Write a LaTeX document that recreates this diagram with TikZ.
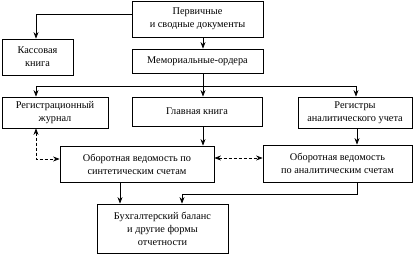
\documentclass[tikz,border=0pt]{standalone}
\usepackage{fontspec}
\setmainfont{Liberation Serif}
\usetikzlibrary{arrows.meta}
\begin{document}
\begin{tikzpicture}[x=1pt,y=-1pt,
  box/.style={draw,line width=0.8pt,align=center,inner sep=1pt,
    font=\fontsize{10.3}{13}\selectfont},
  arr/.style={line width=0.7pt,-{Stealth[length=6.5pt,width=5pt]}},
  darr/.style={line width=0.7pt,dashed,dash pattern=on 3pt off 2pt,
    {Stealth[length=6.5pt,width=5pt]}-{Stealth[length=6.5pt,width=5pt]}},
  ln/.style={line width=0.7pt}]
\useasboundingbox (0,0) rectangle (419,256);
\node[box,minimum width=131pt,minimum height=36pt] (top) at (197.5,19) {Первичные\\и сводные документы};
\node[box,minimum width=71pt,minimum height=36pt] (kass) at (37.5,57) {Кассовая\\книга};
\node[box,minimum width=131pt,minimum height=24pt] (mem) at (197.5,61) {Мемориальные-ордера};
\node[box,minimum width=106pt,minimum height=31pt] (reg) at (55,112.5) {Регистрационный\\журнал};
\node[box,minimum width=130pt,minimum height=29pt] (glav) at (197,111.5) {Главная книга};
\node[box,minimum width=114pt,minimum height=31pt] (regan) at (355,112.5) {Регистры\\аналитического учета};
\node[box,minimum width=154pt,minimum height=36pt] (syn) at (137,164) {Оборотная ведомость по\\синтетическим счетам};
\node[box,minimum width=149pt,minimum height=37pt] (ana) at (337.5,163.5) {Оборотная ведомость\\по аналитическим счетам};
\node[box,minimum width=131pt,minimum height=49pt] (bal) at (162.5,228.5) {Бухгалтерский баланс\\и другие формы\\отчетности};
\coordinate (cl) at (36,86);
\coordinate (j) at (203,86);
\coordinate (cr) at (356,86);
\coordinate (sb) at (120,0);
\coordinate (ab) at (182,194);
\coordinate (ar) at (357,194);
\draw[arr] ([yshift=5pt]top.west) -| (cl |- kass.north);
\draw[arr] (j |- top.south) -- (j |- mem.north);
\draw[ln] (j |- mem.south) -- (j);
\draw[ln] (cl) -- (cr);
\draw[arr] (cl) -- (cl |- reg.north);
\draw[arr] (j) -- (j |- glav.north);
\draw[arr] (cr) -- (cr |- regan.north);
\draw[arr] (j |- glav.south) -- (j |- syn.north);
\draw[arr] (ar |- regan.south) -- (ar |- ana.north);
\draw[darr] (cl |- reg.south) |- ([yshift=5pt]syn.west);
\draw[darr] ([yshift=6pt]syn.east) -- ([yshift=6pt]syn.east -| ana.west);
\draw[arr] (sb |- syn.south) -- (sb |- bal.north);
\draw[arr] (ar |- ana.south) -- (ar) -- (ab) -- (ab |- bal.north);
\end{tikzpicture}
\end{document}
